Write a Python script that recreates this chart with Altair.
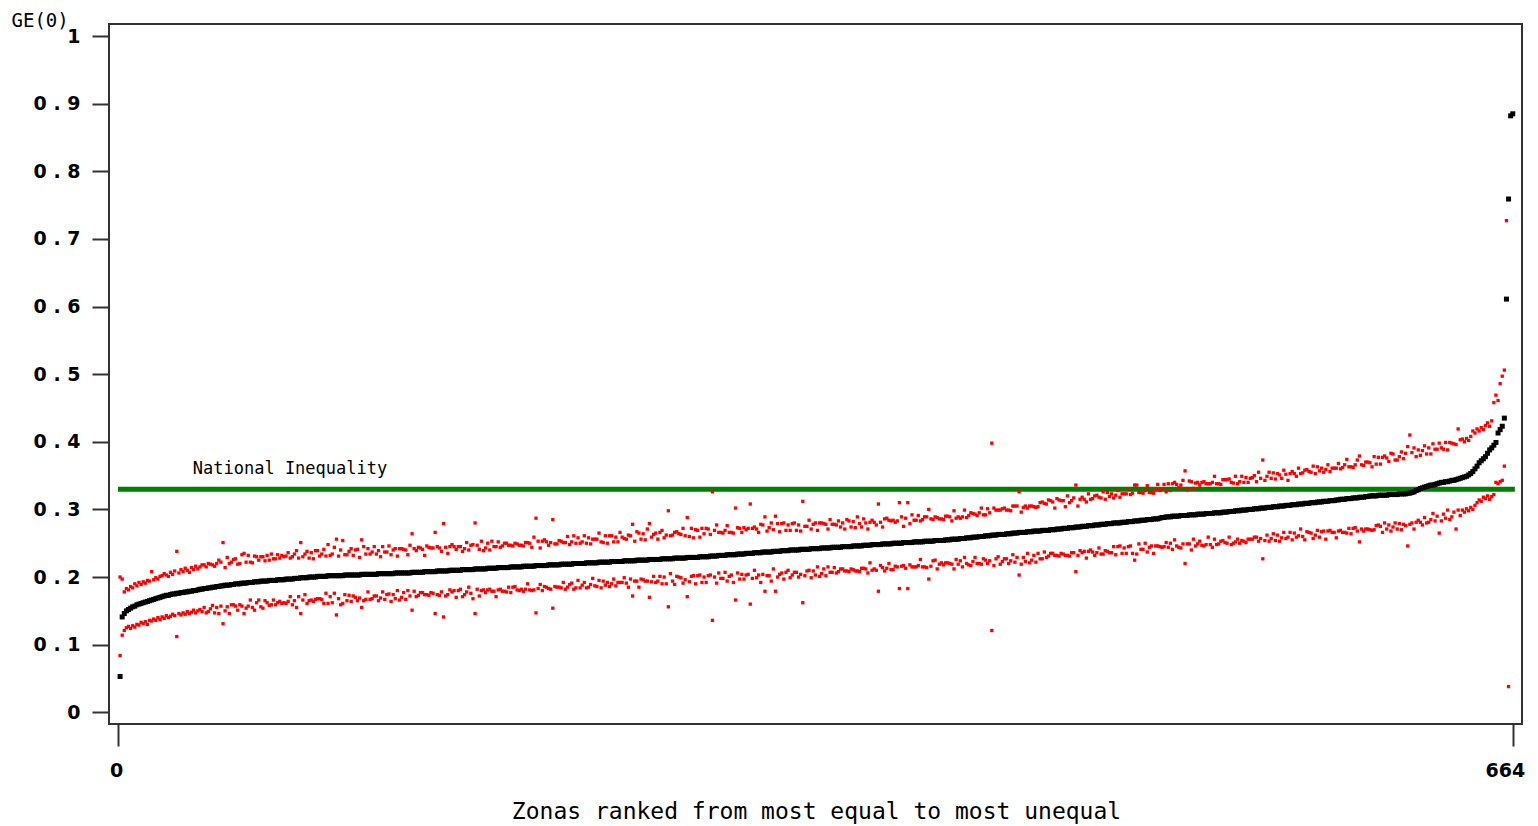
import altair as alt
import pandas as pd

# GE(0) per zona, ranked (values in thousandths), zones 1..664
ge0 = [
    53, 141, 146, 150, 152, 154, 156, 157, 159, 160, 161, 162, 163, 164, 165, 166, 167, 168, 169, 170,
    171, 172, 173, 173, 174, 175, 175, 176, 176, 177, 177, 178, 178, 179, 179, 180, 180, 181, 182, 182,
    183, 183, 184, 184, 185, 185, 186, 186, 187, 187, 188, 188, 188, 189, 189, 190, 190, 190, 191, 191,
    191, 192, 192, 192, 193, 193, 193, 194, 194, 194, 194, 195, 195, 195, 195, 196, 196, 196, 196, 197,
    197, 197, 197, 198, 198, 198, 199, 199, 199, 199, 200, 200, 200, 200, 201, 201, 201, 201, 201, 202,
    202, 202, 202, 202, 202, 202, 202, 203, 203, 203, 203, 203, 203, 203, 203, 204, 204, 204, 204, 204,
    204, 204, 204, 205, 205, 205, 205, 205, 205, 205, 205, 206, 206, 206, 206, 206, 206, 206, 206, 207,
    207, 207, 207, 207, 207, 208, 208, 208, 208, 208, 208, 209, 209, 209, 209, 209, 209, 210, 210, 210,
    210, 210, 210, 211, 211, 211, 211, 211, 211, 212, 212, 212, 212, 212, 212, 213, 213, 213, 213, 213,
    214, 214, 214, 214, 214, 214, 215, 215, 215, 215, 215, 215, 216, 216, 216, 216, 216, 216, 217, 217,
    217, 217, 217, 217, 218, 218, 218, 218, 218, 218, 219, 219, 219, 219, 219, 219, 220, 220, 220, 220,
    220, 220, 221, 221, 221, 221, 221, 221, 222, 222, 222, 222, 222, 222, 223, 223, 223, 223, 223, 223,
    224, 224, 224, 224, 224, 224, 225, 225, 225, 225, 225, 225, 226, 226, 226, 226, 226, 226, 227, 227,
    227, 227, 227, 227, 228, 228, 228, 228, 228, 228, 229, 229, 229, 229, 229, 229, 230, 230, 230, 230,
    230, 231, 231, 231, 231, 232, 232, 232, 232, 233, 233, 233, 233, 233, 234, 234, 234, 234, 235, 235,
    235, 235, 236, 236, 236, 236, 237, 237, 237, 237, 237, 238, 238, 238, 238, 239, 239, 239, 239, 240,
    240, 240, 240, 240, 241, 241, 241, 241, 241, 242, 242, 242, 242, 242, 243, 243, 243, 243, 243, 244,
    244, 244, 244, 244, 245, 245, 245, 245, 245, 246, 246, 246, 246, 246, 247, 247, 247, 247, 248, 248,
    248, 248, 248, 249, 249, 249, 249, 249, 250, 250, 250, 250, 250, 251, 251, 251, 251, 251, 252, 252,
    252, 252, 252, 253, 253, 253, 253, 253, 254, 254, 254, 254, 254, 255, 255, 255, 256, 256, 256, 256,
    257, 257, 257, 258, 258, 258, 259, 259, 259, 260, 260, 260, 261, 261, 261, 262, 262, 262, 263, 263,
    263, 263, 264, 264, 264, 265, 265, 265, 266, 266, 266, 266, 267, 267, 267, 268, 268, 268, 268, 269,
    269, 269, 269, 270, 270, 270, 271, 271, 271, 272, 272, 272, 273, 273, 273, 274, 274, 274, 275, 275,
    275, 276, 276, 276, 277, 277, 277, 278, 278, 278, 279, 279, 279, 280, 280, 280, 280, 281, 281, 281,
    282, 282, 282, 283, 283, 283, 284, 284, 284, 285, 285, 285, 286, 286, 286, 287, 288, 288, 289, 289,
    289, 290, 290, 290, 290, 291, 291, 291, 291, 292, 292, 292, 292, 293, 293, 293, 293, 294, 294, 294,
    294, 295, 295, 295, 295, 296, 296, 296, 297, 297, 297, 298, 298, 298, 299, 299, 299, 300, 300, 300,
    301, 301, 301, 302, 302, 302, 303, 303, 303, 304, 304, 304, 305, 305, 305, 306, 306, 306, 307, 307,
    307, 308, 308, 308, 309, 309, 309, 310, 310, 310, 311, 311, 311, 312, 312, 312, 313, 313, 313, 314,
    314, 315, 315, 315, 316, 316, 316, 317, 317, 317, 318, 318, 318, 319, 319, 320, 320, 320, 320, 321,
    321, 321, 321, 321, 322, 322, 322, 322, 322, 323, 323, 323, 323, 324, 324, 325, 326, 328, 329, 331,
    332, 333, 334, 335, 336, 336, 337, 338, 339, 340, 340, 341, 341, 342, 343, 343, 344, 345, 346, 347,
    348, 349, 351, 353, 356, 360, 364, 369, 372, 375, 378, 383, 388, 391, 395, 399, 413, 418, 423, 435,
    611, 759, 882, 885,
]

# Upper confidence bound per zona (thousandths; None = not shown)
ci_upper = [
    200, 197, 178, 183, 181, 186, 184, 190, 187, 192, 189, 193, 191, 195, 194, 208, 196, 199, 197, 201,
    202, 205, 203, 201, 207, 204, 209, 238, 206, 211, 208, 213, 210, 207, 214, 211, 216, 212, 215, 218,
    218, 215, 220, 219, 218, 216, 220, 225, 222, 251, 214, 229, 220, 222, 226, 227, 219, 220, 233, 235,
    222, 232, 222, 221, 231, 230, 225, 230, 230, 224, 232, 225, 234, 227, 227, 233, 228, 232, 230, 231,
    236, 228, 230, 234, 239, 228, 251, 230, 234, 238, 228, 236, 227, 239, 239, 231, 234, 241, 231, 248,
    232, 234, 244, 256, 231, 240, 254, 233, 233, 238, 242, 232, 240, 241, 229, 255, 245, 234, 242, 234,
    237, 245, 234, 239, 230, 245, 237, 237, 246, 233, 240, 242, 231, 242, 242, 241, 240, 233, 247, 264,
    242, 239, 244, 243, 241, 232, 246, 244, 243, 243, 266, 245, 243, 238, 279, 244, 235, 245, 248, 245,
    241, 245, 245, 238, 242, 251, 240, 247, 248, 280, 247, 241, 253, 239, 243, 250, 240, 253, 245, 245,
    252, 244, 246, 250, 250, 247, 247, 246, 250, 249, 247, 247, 246, 251, 251, 250, 244, 259, 287, 253,
    243, 253, 255, 252, 247, 251, 285, 249, 249, 254, 253, 251, 251, 260, 248, 252, 261, 250, 258, 250,
    252, 261, 250, 258, 249, 256, 256, 256, 265, 252, 251, 261, 250, 261, 261, 252, 259, 252, 266, 259,
    257, 256, 262, 261, 278, 253, 267, 265, 256, 264, 255, 271, 279, 259, 263, 265, 256, 266, 269, 258,
    262, 298, 261, 262, 266, 267, 264, 263, 272, 261, 288, 260, 272, 258, 270, 269, 259, 272, 264, 272,
    271, 263, 326, 269, 277, 266, 266, 265, 269, 276, 266, 266, 265, 302, 273, 272, 266, 273, 270, 272,
    308, 272, 274, 271, 266, 278, 277, 289, 268, 273, 280, 270, 290, 279, 267, 279, 280, 269, 277, 269,
    279, 280, 269, 277, 268, 312, 275, 275, 284, 271, 278, 280, 269, 280, 280, 279, 278, 271, 285, 278,
    278, 277, 283, 274, 280, 271, 285, 283, 274, 282, 273, 289, 279, 274, 286, 280, 271, 281, 284, 281,
    277, 308, 281, 274, 286, 287, 284, 283, 284, 281, 283, 310, 289, 275, 287, 310, 279, 292, 284, 284,
    291, 283, 285, 289, 289, 300, 286, 285, 289, 288, 286, 286, 285, 290, 290, 289, 283, 298, 287, 289,
    287, 289, 299, 288, 291, 295, 294, 293, 291, 295, 302, 292, 292, 301, 295, 398, 302, 299, 299, 299,
    301, 302, 299, 299, 298, 305, 305, 305, 326, 296, 303, 305, 302, 305, 305, 304, 303, 304, 310, 311,
    309, 308, 314, 313, 311, 302, 316, 314, 313, 313, 304, 320, 310, 313, 317, 336, 305, 315, 318, 315,
    311, 323, 315, 316, 320, 321, 318, 317, 326, 315, 325, 319, 323, 317, 321, 328, 318, 323, 323, 323,
    330, 322, 324, 336, 336, 325, 325, 324, 328, 335, 325, 325, 324, 329, 337, 328, 330, 337, 326, 338,
    328, 338, 340, 337, 332, 336, 343, 357, 329, 342, 341, 331, 339, 340, 336, 340, 341, 338, 338, 338,
    340, 349, 338, 338, 337, 344, 344, 344, 345, 340, 339, 349, 338, 341, 349, 340, 347, 340, 346, 347,
    350, 341, 355, 346, 373, 343, 349, 355, 346, 354, 345, 353, 351, 346, 358, 352, 343, 353, 356, 353,
    349, 361, 353, 354, 358, 359, 356, 355, 364, 353, 363, 357, 361, 355, 359, 366, 356, 361, 361, 361,
    368, 360, 362, 366, 374, 363, 363, 362, 366, 373, 379, 366, 365, 370, 370, 369, 363, 378, 367, 377,
    367, 377, 379, 376, 371, 383, 382, 373, 373, 378, 385, 375, 383, 393, 410, 384, 391, 378, 388, 380,
    387, 394, 382, 391, 382, 397, 389, 389, 398, 391, 389, 399, 388, 399, 398, 397, 396, 419, 403, 404,
    400, 405, 402, 408, 416, 413, 419, 416, 421, 418, 424, 428, 423, 431, 458, 469, 461, 486, 497, 506,
    727, None, None, None,
]

# Lower confidence bound per zona (thousandths; None = not shown)
ci_lower = [
    84, 114, 121, 125, 127, 124, 128, 126, 130, 129, 133, 131, 134, 130, 136, 135, 138, 136, 140, 137,
    141, 139, 143, 140, 142, 145, 143, 112, 146, 144, 147, 145, 149, 146, 148, 151, 147, 150, 152, 149,
    155, 147, 149, 153, 158, 147, 155, 146, 157, 131, 150, 156, 146, 159, 159, 157, 151, 159, 157, 146,
    154, 157, 166, 155, 151, 162, 166, 156, 154, 165, 162, 158, 159, 166, 159, 162, 164, 161, 162, 161,
    164, 171, 159, 165, 155, 171, 146, 166, 174, 161, 165, 166, 164, 167, 168, 168, 167, 161, 176, 161,
    171, 162, 176, 144, 168, 159, 161, 174, 165, 173, 164, 172, 170, 165, 169, 155, 165, 167, 178, 167,
    168, 172, 172, 165, 169, 178, 167, 174, 175, 164, 174, 168, 180, 166, 170, 177, 167, 180, 172, 151,
    179, 171, 173, 177, 177, 174, 174, 173, 177, 176, 146, 174, 173, 178, 141, 172, 174, 181, 178, 180,
    170, 180, 182, 171, 174, 178, 185, 176, 168, 146, 182, 172, 180, 181, 177, 181, 182, 179, 179, 171,
    181, 182, 179, 179, 178, 185, 177, 185, 186, 181, 180, 182, 179, 182, 190, 181, 180, 181, 147, 183,
    189, 180, 186, 185, 183, 182, 154, 186, 185, 185, 184, 192, 182, 185, 189, 191, 182, 184, 195, 184,
    188, 192, 184, 185, 189, 198, 187, 186, 195, 184, 194, 188, 192, 186, 190, 197, 187, 192, 192, 192,
    199, 191, 185, 197, 172, 194, 194, 185, 197, 196, 194, 194, 170, 193, 201, 192, 194, 201, 190, 200,
    190, 156, 205, 194, 189, 201, 200, 199, 191, 196, 171, 193, 201, 202, 190, 202, 203, 192, 200, 192,
    202, 203, 136, 200, 191, 206, 198, 198, 207, 194, 201, 203, 192, 166, 206, 197, 204, 197, 203, 204,
    160, 198, 210, 199, 203, 192, 204, 179, 202, 202, 194, 212, 179, 200, 204, 206, 197, 207, 210, 199,
    203, 207, 207, 200, 204, 162, 202, 209, 210, 199, 209, 203, 215, 201, 205, 212, 202, 215, 207, 207,
    214, 206, 208, 212, 212, 209, 209, 208, 212, 211, 209, 209, 208, 213, 213, 212, 206, 221, 210, 212,
    210, 179, 217, 214, 209, 213, 220, 211, 211, 216, 215, 183, 216, 217, 213, 183, 218, 215, 215, 215,
    217, 226, 215, 215, 214, 197, 216, 224, 225, 212, 219, 221, 218, 221, 221, 220, 219, 212, 226, 219,
    224, 215, 229, 220, 218, 217, 223, 229, 220, 220, 219, 227, 225, 220, 224, 121, 217, 227, 230, 219,
    223, 227, 227, 220, 224, 233, 222, 229, 203, 219, 229, 223, 235, 221, 225, 232, 222, 235, 227, 227,
    237, 229, 231, 235, 235, 232, 232, 231, 235, 234, 232, 232, 231, 236, 236, 208, 232, 239, 236, 238,
    228, 238, 240, 237, 232, 236, 243, 234, 234, 239, 238, 236, 236, 245, 233, 245, 246, 235, 243, 235,
    245, 246, 235, 225, 234, 249, 241, 241, 250, 237, 244, 246, 235, 246, 246, 245, 244, 245, 251, 244,
    250, 241, 255, 246, 244, 243, 249, 220, 249, 249, 240, 256, 246, 249, 253, 247, 246, 248, 259, 248,
    244, 256, 248, 249, 253, 254, 251, 250, 259, 248, 250, 252, 256, 250, 254, 253, 251, 256, 256, 256,
    259, 259, 253, 257, 227, 254, 262, 253, 257, 264, 254, 262, 253, 258, 266, 257, 259, 266, 255, 265,
    259, 261, 271, 260, 255, 267, 266, 265, 257, 262, 269, 259, 267, 268, 256, 268, 269, 266, 266, 258,
    268, 269, 266, 266, 265, 272, 264, 272, 273, 268, 252, 271, 268, 271, 271, 270, 269, 270, 276, 277,
    275, 266, 280, 271, 277, 268, 274, 280, 271, 279, 270, 278, 276, 246, 278, 280, 271, 281, 284, 281,
    277, 288, 280, 281, 285, 294, 283, 290, 265, 283, 293, 287, 299, 285, 289, 296, 271, 299, 291, 299,
    296, 301, 298, 303, 300, 306, 310, 314, 312, 318, 316, 320, 315, 319, 322, 340, 338, 341, 343, 364,
    None, 38, None, None,
]

national_inequality = 0.33
national_label = "National Inequality"
x_ticks = [0, 664]
y_ticks = [0, 0.1, 0.2, 0.3, 0.4, 0.5, 0.6, 0.7, 0.8, 0.9, 1]

n = min(len(ge0), len(ci_upper), len(ci_lower))
black_rows = []
red_rows = []
for i in range(n):
    zone = i + 1
    black_rows.append({"zone": zone, "value": ge0[i] / 1000})
    if ci_upper[i] is not None:
        red_rows.append({"zone": zone, "value": ci_upper[i] / 1000})
    if ci_lower[i] is not None:
        red_rows.append({"zone": zone, "value": ci_lower[i] / 1000})
df_black = pd.DataFrame(black_rows)
df_red = pd.DataFrame(red_rows)
df_line = pd.DataFrame({"zone": [0], "zone_end": [665], "value": [national_inequality]})
df_text = pd.DataFrame({"zone": [35.6], "value": [0.3525], "label": [national_label]})

xscale = alt.Scale(domain=[-4.28, 668.4], nice=False, zero=False)
yscale = alt.Scale(domain=[-0.0173, 1.0178], nice=False, zero=False)

X = alt.X(
    "zone:Q",
    scale=xscale,
    axis=alt.Axis(
        values=x_ticks, format="d", domain=False, grid=False,
        tickSize=22, tickWidth=2, tickColor="#333",
        labelFont="DejaVu Sans", labelFontWeight="bold", labelFontSize=19,
        labelColor="#000", labelPadding=15, labelFlush=False,
        labelAlign={"condition": {"test": "datum.value == 664", "value": "right"}, "value": "center"},
        labelOffset={"condition": {"test": "datum.value == 664", "value": 12}, "value": -2},
        title="Zonas ranked from most equal to most unequal",
        titleFont="DejaVu Sans Mono", titleFontSize=23, titleFontWeight="normal",
        titleColor="#000", titleX=707, titleY=94, titleBaseline="alphabetic",
        titleAlign="center",
    ),
)
Y = alt.Y(
    "value:Q",
    scale=yscale,
    axis=alt.Axis(
        values=y_ticks, domain=False, grid=False,
        tickSize=17, tickWidth=2, tickColor="#333",
        labelFont="DejaVu Sans", labelFontWeight="bold", labelFontSize=19,
        labelColor="#000", labelPadding=12, labelFlush=False,
        labelExpr="datum.value == 0 ? '0' : (datum.value == 1 ? '1' : replace(format(datum.value, '.1f'), '.', ' . '))",
        title="GE(0)", titleAngle=0, titleAlign="left", titleBaseline="top",
        titleX=-98, titleY=-13, titleFont="DejaVu Sans Mono", titleFontSize=19,
        titleFontWeight="normal", titleColor="#000",
    ),
)

rule = alt.Chart(df_line).mark_rule(color="#008000", strokeWidth=5, strokeCap="butt").encode(
    x=X, x2="zone_end:Q", y=Y
)
label = alt.Chart(df_text).mark_text(
    align="left", baseline="alphabetic", font="DejaVu Sans Mono", fontSize=17, color="#000"
).encode(x=X, y=Y, text="label:N")
black = alt.Chart(df_black).mark_square(size=25, color="#000000", opacity=1, strokeWidth=0).encode(x=X, y=Y)
red = alt.Chart(df_red).mark_square(size=11, color="#ff0000", opacity=1, strokeWidth=0).encode(x=X, y=Y)

chart = alt.layer(rule, label, black, red).properties(
    width=1413,
    height=700,
    autosize=alt.AutoSizeParams(type="none"),
    padding={"left": 101, "top": 16, "right": 8, "bottom": 100},
    background="white",
).configure_view(stroke="#333", strokeWidth=2)

chart.save("out.html", embed_options={"renderer": "svg", "actions": False})
